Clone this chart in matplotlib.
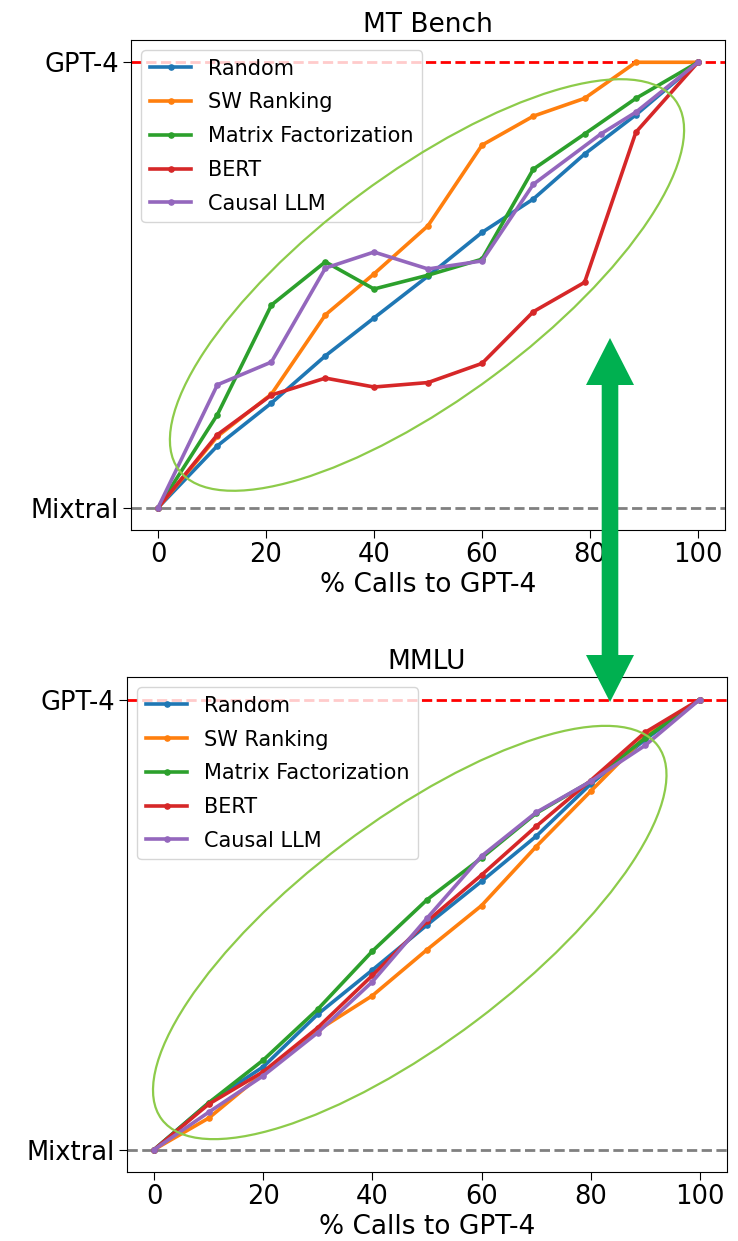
import matplotlib
matplotlib.use("Agg")
import matplotlib.pyplot as plt
from matplotlib.patches import Ellipse, Polygon

# ---- data: normalised quality (0 = Mixtral, 1 = GPT-4) vs % calls to GPT-4 ----
series_names = ["Random", "SW Ranking", "Matrix Factorization", "BERT", "Causal LLM"]
series_colors = ["tab:blue", "tab:orange", "tab:green", "tab:red", "tab:purple"]

# MT Bench
mt_x = [0, 11, 21, 31, 40, 50, 60, 69.5, 79, 88.5, 100]
mt_x_causal = [0, 11, 21, 31, 40, 50, 60, 69.5, 82, 88.5, 100]
mt_random = [0, 0.139, 0.235, 0.341, 0.426, 0.520, 0.618, 0.693, 0.794, 0.882, 1]
mt_sw = [0, 0.160, 0.255, 0.433, 0.525, 0.633, 0.814, 0.879, 0.919, 1.0, 1]
mt_mf = [0, 0.209, 0.455, 0.552, 0.491, 0.522, 0.558, 0.760, 0.839, 0.919, 1]
mt_bert = [0, 0.164, 0.253, 0.291, 0.271, 0.281, 0.324, 0.440, 0.506, 0.843, 1]
mt_causal = [0, 0.276, 0.327, 0.538, 0.574, 0.536, 0.554, 0.726, 0.839, 0.888, 1]

# MMLU
mmlu_x = [0, 10, 20, 30, 40, 50, 60, 70, 80, 90, 100]
mmlu_random = [0, 0.104, 0.184, 0.301, 0.399, 0.499, 0.596, 0.696, 0.812, 0.911, 1]
mmlu_sw = [0, 0.070, 0.170, 0.265, 0.342, 0.444, 0.542, 0.673, 0.796, 0.918, 1]
mmlu_mf = [0, 0.104, 0.199, 0.312, 0.441, 0.555, 0.648, 0.747, 0.818, 0.914, 1]
mmlu_bert = [0, 0.101, 0.173, 0.271, 0.387, 0.507, 0.610, 0.718, 0.820, 0.927, 1]
mmlu_causal = [0, 0.083, 0.164, 0.260, 0.373, 0.514, 0.652, 0.749, 0.818, 0.898, 1]

y_tick_values = [0, 1]
y_tick_labels = ["Mixtral", "GPT-4"]
x_tick_values = [0, 20, 40, 60, 80, 100]

W, H = 738, 1241
fig = plt.figure(figsize=(W / 100, H / 100), dpi=100)

ax_top = fig.add_axes([131 / W, 1 - 530 / H, 594 / W, 490 / H])
ax_bot = fig.add_axes([127 / W, 1 - 1172 / H, 600 / W, 495 / H])


def draw_panel(ax, title, xs, ys_list):
    ax.axhline(1, color="red", linestyle="--", linewidth=2, zorder=1)
    ax.axhline(0, color="gray", linestyle="--", linewidth=2, zorder=1)
    for name, color, x, y in zip(series_names, series_colors, xs, ys_list):
        ax.plot(x, y, color=color, linewidth=2.6, marker=".", markersize=7.5,
                label=name, zorder=3)
    ax.set_xlim(-5, 105)
    ax.set_ylim(-0.05, 1.05)
    ax.set_xticks(x_tick_values)
    ax.set_yticks(y_tick_values)
    ax.set_yticklabels(y_tick_labels)
    ax.tick_params(labelsize=18.5, length=6, pad=2.5)
    ax.set_xlabel("% Calls to GPT-4", fontsize=19, labelpad=3)
    ax.set_title(title, fontsize=19, pad=6)
    ax.legend(loc="upper left", fontsize=15, labelspacing=0.66)


draw_panel(ax_top, "MT Bench",
           [mt_x, mt_x, mt_x, mt_x, mt_x_causal],
           [mt_random, mt_sw, mt_mf, mt_bert, mt_causal])
draw_panel(ax_bot, "MMLU",
           [mmlu_x] * 5,
           [mmlu_random, mmlu_sw, mmlu_mf, mmlu_bert, mmlu_causal])

# ---- highlight layer in figure pixel coordinates ----
ov = fig.add_axes([0, 0, 1, 1], zorder=10)
ov.set_xlim(0, W)
ov.set_ylim(H, 0)
ov.axis("off")
ov.patch.set_alpha(0)

ring_color = "#8DCB4A"
ov.add_patch(Ellipse((427, 285), 619, 225, angle=-36.7, fill=False,
                     edgecolor=ring_color, linewidth=1.6))
ov.add_patch(Ellipse((409.75, 932.5), 621, 221, angle=-37, fill=False,
                     edgecolor=ring_color, linewidth=1.6))

cx, top, bot = 610, 338, 702
head_w, head_l, shaft_w = 24, 47, 8.3
arrow_pts = [
    (cx, top), (cx + head_w, top + head_l), (cx + shaft_w, top + head_l),
    (cx + shaft_w, bot - head_l), (cx + head_w, bot - head_l), (cx, bot),
    (cx - head_w, bot - head_l), (cx - shaft_w, bot - head_l),
    (cx - shaft_w, top + head_l), (cx - head_w, top + head_l),
]
ov.add_patch(Polygon(arrow_pts, closed=True, facecolor="#00B050",
                     edgecolor="none"))

fig.savefig("out.png", dpi=100)
